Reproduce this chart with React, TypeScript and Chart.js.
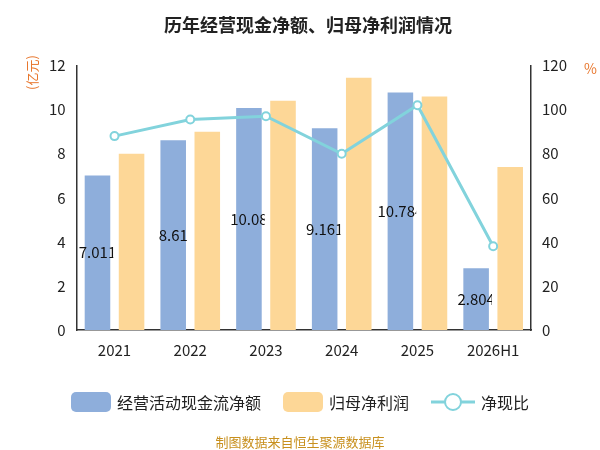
import React, { useEffect, useRef } from "react";
import { Chart, registerables } from "chart.js";
Chart.register(...registerables);

const categories = ["2021", "2022", "2023", "2024", "2025", "2026H1"];
const cashFlow = [7.011, 8.61, 10.08, 9.161, 10.784, 2.804];
const cashLabels = ["7.011", "8.61", "10.08", "9.161", "10.784", "2.804"];
const netProfit = [8.0, 9.0, 10.4, 11.45, 10.6, 7.4];
const ratio = [88, 95.5, 97, 80, 102, 38];

const BLUE = "#8eaedb";
const ORANGE = "#fdd797";
const TEAL = "#82d3dc";
const FONT = "'Noto Sans CJK SC', 'Noto Sans', sans-serif";

export default function App() {
  const ref = useRef<HTMLCanvasElement>(null);
  useEffect(() => {
    const labelPlugin = {
      id: "lbl",
      afterDatasetDraw(chart: any, args: any) {
        if (args.index !== 0) return;
        const ctx = chart.ctx;
        const meta = chart.getDatasetMeta(0);
        ctx.save();
        ctx.font = `15px ${FONT}`;
        ctx.fillStyle = "#111";
        ctx.textAlign = "center";
        ctx.textBaseline = "middle";
        meta.data.forEach((b: any, i: number) => {
          ctx.save();
          ctx.beginPath();
          ctx.rect(0, 0, b.x + b.width / 2 + 3, 450);
          ctx.clip();
          ctx.fillText(cashLabels[i], b.x, (b.y + b.base) / 2);
          ctx.restore();
        });
        ctx.restore();
      },
    };
    const c = new Chart(ref.current!, {
      type: "bar",
      data: {
        labels: categories,
        datasets: [
          { type: "bar", label: "经营活动现金流净额", data: cashFlow, backgroundColor: BLUE, yAxisID: "y", order: 2, barPercentage: 0.75, categoryPercentage: 0.9 },
          { type: "bar", label: "归母净利润", data: netProfit, backgroundColor: ORANGE, yAxisID: "y", order: 2, barPercentage: 0.75, categoryPercentage: 0.9 },
          { type: "line", label: "净现比", data: ratio, borderColor: TEAL, backgroundColor: "#fff", borderWidth: 3, pointRadius: 4, pointBorderWidth: 2, yAxisID: "y1", order: 1 },
        ] as any,
      },
      plugins: [labelPlugin],
      options: {
        responsive: false,
        animation: false,
        layout: { padding: { left: 46, right: 30, top: 10, bottom: 88 } },
        plugins: {
          legend: { display: false },
          tooltip: { enabled: false },
          title: { display: true, text: "历年经营现金净额、归母净利润情况", font: { size: 18, weight: "bold", family: FONT }, color: "#222", padding: { top: 4, bottom: 30 } },
        },
        scales: {
          x: { grid: { display: false }, border: { color: "#333", width: 1.5 }, ticks: { color: "#222", font: { size: 15, family: FONT } } },
          y: {
            min: 0, max: 12, ticks: { stepSize: 2, color: "#222", font: { size: 15, family: FONT } },
            grid: { display: false }, border: { color: "#333", width: 1.5 },
          },
          y1: {
            position: "right", min: 0, max: 120, ticks: { stepSize: 20, color: "#222", font: { size: 15, family: FONT } },
            grid: { display: false }, border: { color: "#333", width: 1.5 },
          },
        },
      } as any,
    });
    return () => c.destroy();
  }, []);
  const item = { display: "flex", alignItems: "center", gap: 6 } as const;
  return (
    <div style={{ position: "fixed", left: 0, top: 0, width: 600, height: 450, background: "#fff", fontFamily: FONT }}>
      <canvas ref={ref} width={600} height={450} />
      <div style={{ position: "absolute", left: 22, top: 90, color: "#e8772e", fontSize: 13, transform: "rotate(-90deg)", transformOrigin: "left top", whiteSpace: "nowrap" }}>(亿元)</div>
      <div style={{ position: "absolute", left: 584, top: 58, color: "#e8772e", fontSize: 14 }}>%</div>
      <div style={{ position: "absolute", top: 390, left: 0, width: 600, display: "flex", justifyContent: "center", gap: 22, fontSize: 16, color: "#222" }}>
        <div style={item}><span style={{ width: 40, height: 20, borderRadius: 5, background: BLUE, display: "inline-block" }} />经营活动现金流净额</div>
        <div style={item}><span style={{ width: 40, height: 20, borderRadius: 5, background: ORANGE, display: "inline-block" }} />归母净利润</div>
        <div style={item}>
          <svg width="44" height="20"><line x1="0" y1="10" x2="44" y2="10" stroke={TEAL} strokeWidth="3" /><circle cx="22" cy="10" r="8" fill="#fff" stroke={TEAL} strokeWidth="2" /></svg>净现比
        </div>
      </div>
      <div style={{ position: "absolute", top: 432, left: 0, width: 600, textAlign: "center", fontSize: 13, color: "#c8901e" }}>制图数据来自恒生聚源数据库</div>
    </div>
  );
}
